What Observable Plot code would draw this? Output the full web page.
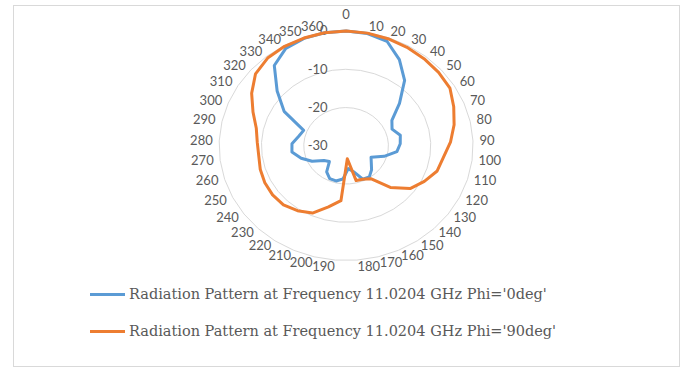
<!DOCTYPE html>
<html>
<head>
<meta charset="utf-8">
<script src="https://cdn.jsdelivr.net/npm/d3@7"></script>
<script src="https://cdn.jsdelivr.net/npm/@observablehq/plot@0.6"></script>
<style>
  html, body { margin: 0; padding: 0; background: #fff; }
  #frame { position: absolute; left: 13px; top: 5px; width: 667px; height: 362px;
           border: 1px solid #d9d9d9; box-sizing: border-box; }
  #chart { position: absolute; left: 0; top: 0; }
  #legend { position: absolute; left: 90px; top: 283px;
            font-family: "DejaVu Serif", serif; font-size: 14.5px; color: #595959; }
  .item { display: flex; align-items: center; height: 22px; margin-bottom: 15px; white-space: nowrap; }
  .swatch { width: 35px; height: 3px; margin-right: 4px; }
</style>
</head>
<body>
<div id="frame"></div>
<div id="chart"></div>
<div id="legend"></div>
<script>
// Category axis: angle in degrees (0 … 360, 37 categories)
const angleLabels = [0, 10, 20, 30, 40, 50, 60, 70, 80, 90, 100, 110, 120, 130, 140, 150, 160, 170, 180,
                     190, 200, 210, 220, 230, 240, 250, 260, 270, 280, 290, 300, 310, 320, 330, 340, 350, 360];

// Normalised gain (dB), Phi = 0deg
const phi0 = [0, -0.2, -1.0, -4.2, -8.0, -13.2, -17.3, -18.3, -16.9, -17.2, -17.9, -20.6, -23.4,
              -22.6, -21.3, -20.2, -20.4, -23.0, -24.0, -21.3, -20.5, -20.6, -21.8, -24.3, -23.5,
              -21.0, -18.9, -17.1, -17.2, -18.5, -19.2, -12.8, -8.3, -3.0, -0.8, -0.2, 0];

// Normalised gain (dB), Phi = 90deg
const phi90 = [0, -0.1, -0.3, -0.5, -0.7, -0.9, -1.2, -2.6, -3.9, -5.3, -6.8, -7.5, -9.3,
               -11.2, -14.9, -19.6, -20.4, -20.6, -26.6, -15.6, -13.5, -10.7, -9.5, -8.6, -8.4,
               -8.5, -8.8, -9.2, -9.0, -8.3, -6.3, -3.8, -1.5, -0.5, -0.2, -0.1, 0];

// Radial (value) axis
const valueTicks = [-30, -20, -10, 0];
const ringValues = [-20, -10, 0];

const seriesNames = [
  "Radiation Pattern at Frequency 11.0204 GHz Phi='0deg'",
  "Radiation Pattern at Frequency 11.0204 GHz Phi='90deg'"
];
const seriesColors = ["#5B9BD5", "#ED7D31"];

// Radar geometry: value → radius from the centre (-30 dB), category → angle clockwise from top
const rMin = valueTicks[0];
const rMax = valueTicks[valueTicks.length - 1];
const R = rMax - rMin;
const n = angleLabels.length;
const theta = i => (i * 2 * Math.PI) / n;
const polar = (i, v) => {
  const r = v - rMin;
  return { x: r * Math.sin(theta(i)), y: r * Math.cos(theta(i)) };
};

// Plot area: the radar is drawn slightly wider than tall
const cx = 345.6, cy = 145.3, rx = 127, ry = 114.7;
const pxX = rx / R, pxY = ry / R;

const rows = [];
[phi0, phi90].forEach((vals, s) => {
  vals.forEach((v, i) => rows.push({ series: seriesNames[s], ...polar(i, v) }));
});

const rings = ringValues.flatMap(t => angleLabels.map((_, i) => ({ ring: t, ...polar(i, t) })));

// Category labels sit just outside the outer ring
const padX = 6.5, padY = 6.5, padTop = 16;
const labels = angleLabels.map((a, i) => {
  const s = Math.sin(theta(i)), c = Math.cos(theta(i));
  const top = i === 0;
  return {
    text: String(a),
    x: s * (R + padX / pxX),
    y: top ? R + padTop / pxY : c * (R + padY / pxY),
    side: top ? "middle" : s > 0 ? "start" : "end"
  };
});

const labelStyle = { fill: "#595959", fontSize: 13, fontFamily: "Lato, 'Open Sans', sans-serif" };

const chart = Plot.plot({
  width: 683,
  height: 280,
  x: { domain: [-R, R], range: [cx - rx, cx + rx], axis: null },
  y: { domain: [-R, R], range: [cy + ry, cy - ry], axis: null },
  color: { domain: seriesNames, range: seriesColors },
  marks: [
    Plot.line(rings, { x: "x", y: "y", z: "ring", curve: "linear-closed", stroke: "#d9d9d9", strokeWidth: 1 }),
    Plot.text(valueTicks, { x: 0, y: d => d - rMin, text: d => String(d), textAnchor: "end", dx: -18.5, ...labelStyle }),
    ...["start", "end", "middle"].map(side =>
      Plot.text(labels.filter(d => d.side === side), { x: "x", y: "y", text: "text", textAnchor: side, ...labelStyle })
    ),
    Plot.line(rows, { x: "x", y: "y", z: "series", stroke: "series", curve: "linear-closed",
                      strokeWidth: 3, strokeLinejoin: "round" })
  ]
});
document.getElementById("chart").append(chart);

const legend = document.getElementById("legend");
seriesNames.forEach((name, i) => {
  const item = document.createElement("div");
  item.className = "item";
  const sw = document.createElement("span");
  sw.className = "swatch";
  sw.style.background = seriesColors[i];
  const label = document.createElement("span");
  label.textContent = name;
  item.append(sw, label);
  legend.append(item);
});
</script>
</body>
</html>
